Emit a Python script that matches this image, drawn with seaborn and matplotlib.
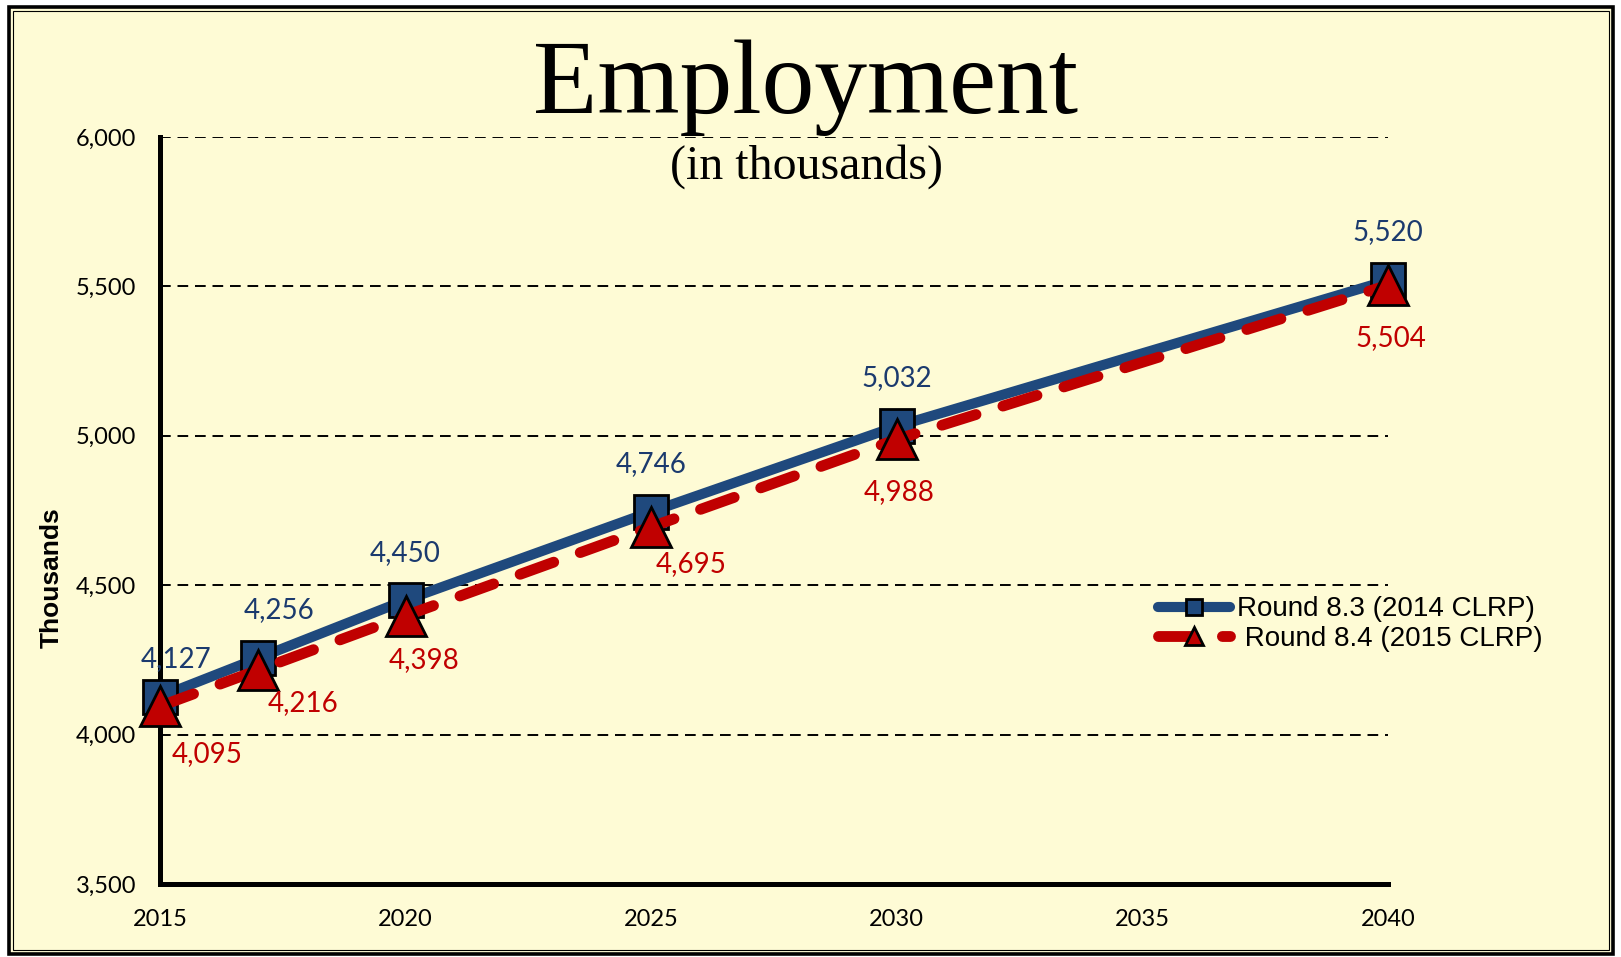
import numpy as np
import pandas as pd
import seaborn as sns
import matplotlib.pyplot as plt
from matplotlib.patches import Rectangle
from matplotlib.ticker import FuncFormatter, FixedLocator

# ---- data
years = [2015, 2017, 2020, 2025, 2030, 2040]
round_83 = [4127, 4256, 4450, 4746, 5032, 5520]
round_84 = [4095, 4216, 4398, 4695, 4988, 5504]
series_names = ["Round 8.3 (2014 CLRP)", " Round 8.4 (2015 CLRP)"]
x_ticks = [2015, 2020, 2025, 2030, 2035, 2040]
y_ticks = [3500, 4000, 4500, 5000, 5500, 6000]

# label offsets in pixels (layout only)
off_83 = [(16, 38), (21, 48), (0, 47), (0, 48), (0, 48), (0, 48)]
off_84 = [(47, -48), (45, -33), (18, -44), (40, -37), (2, -53), (3, -53)]

BG = "#FEFBD5"
BLUE = "#1F497D"
BLUE_TXT = "#1B3A6E"
RED = "#C00000"

sns.set_theme(style="white")
plt.rcParams["font.family"] = ["Lato", "DejaVu Sans"]
plt.rcParams["text.color"] = "black"

df83 = pd.DataFrame({"Year": years, "Employment": round_83})
df84 = pd.DataFrame({"Year": years, "Employment": round_84})

fig = plt.figure(figsize=(16.21, 9.57), dpi=100, facecolor="white")

# double border
W, H = 1621, 957
fig.patches.append(Rectangle((8.5 / W, 3.5 / H), 1 - 17 / W, 1 - 10 / H, transform=fig.transFigure,
                             facecolor=BG, edgecolor="black", lw=2.6, zorder=-10))
fig.patches.append(Rectangle((12.5 / W, 7.5 / H), 1 - 25 / W, 1 - 18.5 / H, transform=fig.transFigure,
                             facecolor="none", edgecolor="black", lw=0.8, zorder=-9))

ax = fig.add_axes([160 / W, 1 - 884 / H, (1388 - 160) / W, (884 - 137) / H])
ax.set_facecolor("none")

sns.lineplot(data=df83, x="Year", y="Employment", ax=ax, color=BLUE, lw=7.3,
             marker="s", markersize=25, markeredgecolor="black", markeredgewidth=2,
             markerfacecolor=BLUE, label=series_names[0], clip_on=False, zorder=3)
sns.lineplot(data=df84, x="Year", y="Employment", ax=ax, color=RED, lw=7.8,
             marker="^", markersize=29, markeredgecolor="black", markeredgewidth=2,
             markerfacecolor=RED, label=series_names[1], clip_on=False, zorder=4)

red_line = ax.get_lines()[1]
red_line.set_dashes([3.3, 2.6])
red_line.set_dash_capstyle("round")
ax.get_lines()[0].set_solid_capstyle("round")

for x, y, (dx, dy) in zip(years, round_83, off_83):
    ax.annotate(f"{y:,}", (x, y), xytext=(dx, dy), textcoords="offset pixels",
                ha="center", va="center", fontsize=20, color=BLUE_TXT, zorder=6)
for x, y, (dx, dy) in zip(years, round_84, off_84):
    ax.annotate(f"{y:,}", (x, y), xytext=(dx, dy), textcoords="offset pixels",
                ha="center", va="center", fontsize=20, color=RED, zorder=6)

ax.set_xlim(2015, 2040)
ax.set_ylim(3500, 6000)
ax.xaxis.set_major_locator(FixedLocator(x_ticks))
ax.yaxis.set_major_locator(FixedLocator(y_ticks))
ax.yaxis.set_major_formatter(FuncFormatter(lambda v, p: f"{int(v):,}"))
ax.tick_params(axis="both", direction="out", length=5, width=3.5, color="black",
               labelsize=17, labelcolor="black")
ax.tick_params(axis="y", pad=12)
ax.tick_params(axis="x", pad=13)

ax.yaxis.grid(True, linestyle=(0, (5.5, 3.5)), color="black", lw=1.4)
ax.xaxis.grid(False)
ax.set_axisbelow(True)
for s in ["top", "right"]:
    ax.spines[s].set_visible(False)
for s in ["left", "bottom"]:
    ax.spines[s].set_linewidth(3.6)
    ax.spines[s].set_color("black")
ax.set_xlabel("")
ax.set_ylabel("")

fig.text(52 / W, 1 - 578 / H, "Thousands", rotation=90, ha="center", va="center",
         fontsize=19, fontweight="bold", color="black", family=["Liberation Sans", "DejaVu Sans"])

fig.text(806 / W, 1 - 113 / H, "Employment", ha="center", va="baseline", color="black",
         fontsize=76, family=["Liberation Serif", "DejaVu Serif"])
fig.text(806 / W, 1 - 179 / H, "(in thousands)", ha="center", va="baseline", color="black",
         fontsize=34.5, family=["Liberation Serif", "DejaVu Serif"])

leg = ax.legend(loc="center left", bbox_to_anchor=(1158 / W, 1 - 624 / H),
                bbox_transform=fig.transFigure, frameon=False, borderpad=0,
                borderaxespad=0, handlelength=2.6, handletextpad=0.25,
                labelspacing=0.12, markerscale=0.45,
                prop={"family": ["Liberation Sans", "DejaVu Sans"], "size": 20})
for t in leg.get_texts():
    t.set_color("black")

fig.savefig("out.png", dpi=100, facecolor="white")
